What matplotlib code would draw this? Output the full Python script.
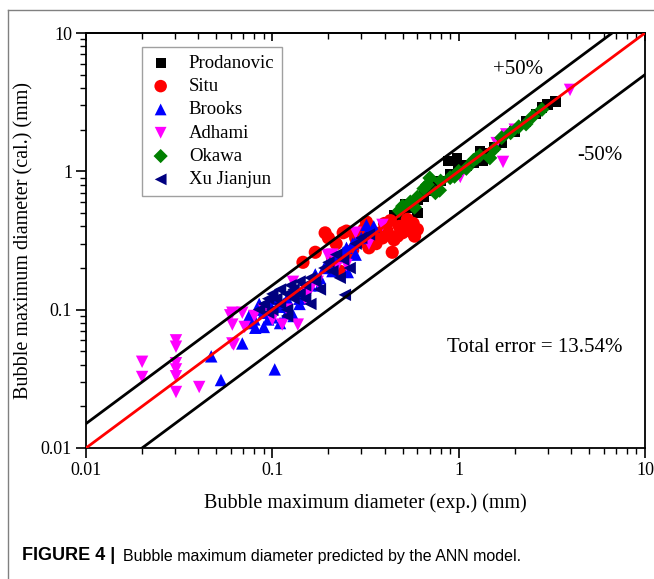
import matplotlib
matplotlib.use("Agg")
import matplotlib.pyplot as plt
from matplotlib.lines import Line2D
import numpy as np

plt.rcParams['font.family'] = ['Liberation Serif', 'DejaVu Serif']

# ---------------- data ----------------
prod_x = [0.45, 0.5, 0.52, 0.55, 0.6, 0.65, 0.7, 0.75, 0.8, 0.88, 0.98, 0.9, 1.0, 1.1, 1.2,
          1.3, 1.45, 1.55, 1.7, 2.0, 2.3, 2.6, 2.8, 3.0, 3.3, 0.5, 0.6, 1.35]
prod_y = [0.48, 0.5, 0.58, 0.55, 0.62, 0.66, 0.72, 0.8, 0.85, 1.19, 1.24, 0.95, 1.05, 1.1, 1.15,
          1.4, 1.35, 1.5, 1.6, 1.95, 2.3, 2.6, 2.9, 3.05, 3.2, 0.42, 0.5, 1.2]

situ_x = [0.146, 0.17, 0.192, 0.21, 0.22, 0.23, 0.24, 0.26, 0.28, 0.32, 0.33, 0.38, 0.39, 0.41,
          0.44, 0.48, 0.5, 0.57, 0.6, 0.25, 0.3, 0.35, 0.42, 0.45, 0.52, 0.55, 0.36, 0.4, 0.47,
          0.27, 0.2, 0.31, 0.43, 0.53, 0.58]
situ_y = [0.22, 0.26, 0.359, 0.24, 0.30, 0.19, 0.36, 0.26, 0.33, 0.43, 0.28, 0.36, 0.33, 0.38,
          0.26, 0.40, 0.36, 0.42, 0.38, 0.37, 0.31, 0.34, 0.35, 0.32, 0.41, 0.37, 0.30, 0.42, 0.34,
          0.27, 0.33, 0.38, 0.44, 0.45, 0.34]

brooks_x = [0.047, 0.053, 0.103, 0.069, 0.081, 0.075, 0.08, 0.085, 0.09, 0.095, 0.1, 0.1, 0.105,
            0.11, 0.115, 0.12, 0.12, 0.13, 0.14, 0.15, 0.16, 0.17, 0.18, 0.19, 0.2, 0.21, 0.22,
            0.24, 0.25, 0.27, 0.3, 0.32, 0.35, 0.28, 0.18, 0.13, 0.09, 0.085, 0.11, 0.14, 0.254,
            0.32, 0.28, 0.078, 0.095, 0.12]
brooks_y = [0.046, 0.031, 0.037, 0.057, 0.074, 0.09, 0.085, 0.1, 0.095, 0.11, 0.1, 0.088, 0.12,
            0.105, 0.11, 0.12, 0.095, 0.13, 0.12, 0.14, 0.15, 0.18, 0.17, 0.2, 0.22, 0.19, 0.24,
            0.26, 0.28, 0.3, 0.33, 0.35, 0.4, 0.25, 0.15, 0.09, 0.075, 0.11, 0.08, 0.11, 0.187,
            0.41, 0.31, 0.08, 0.085, 0.105]

adh_x = [0.02, 0.02, 0.0304, 0.0304, 0.0304, 0.0304, 0.0304, 0.0304, 0.0405, 0.061, 0.061, 0.061,
         0.069, 0.071, 0.062, 0.0594, 0.113, 0.137, 0.129, 0.175, 0.198, 0.28, 0.39, 0.153, 0.09,
         0.1, 0.12, 0.15, 0.22, 0.25, 0.33, 1.02, 1.73, 3.96, 2.0, 1.8, 1.6, 0.08, 0.16, 0.21]
adh_y = [0.042, 0.0326, 0.060, 0.054, 0.041, 0.037, 0.033, 0.0254, 0.0276, 0.095, 0.078, 0.057,
         0.095, 0.075, 0.056, 0.091, 0.078, 0.078, 0.159, 0.159, 0.249, 0.36, 0.41, 0.134, 0.1,
         0.085, 0.1, 0.12, 0.2, 0.21, 0.3, 0.91, 1.17, 3.88, 2.0, 1.85, 1.6, 0.09, 0.14, 0.25]

okawa_x = [0.48, 0.5, 0.55, 0.6, 0.65, 0.7, 0.79, 0.75, 0.8, 0.9, 1.0, 1.1, 1.2, 1.3, 1.47, 1.55,
           1.7, 1.9, 2.1, 2.3, 2.5, 2.8, 0.58, 0.68, 0.95, 1.25]
okawa_y = [0.52, 0.56, 0.6, 0.65, 0.75, 0.895, 0.73, 0.7, 0.85, 0.9, 1.0, 1.05, 1.2, 1.3, 1.25,
           1.45, 1.75, 1.9, 2.1, 2.2, 2.5, 2.8, 0.55, 0.8, 0.92, 1.25]

xu_x = [0.085, 0.09, 0.095, 0.1, 0.1, 0.105, 0.11, 0.11, 0.12, 0.12, 0.125, 0.13, 0.13, 0.14, 0.14,
        0.15, 0.15, 0.16, 0.17, 0.18, 0.19, 0.2, 0.21, 0.22, 0.24, 0.26, 0.28, 0.3, 0.33, 0.245,
        0.23, 0.16, 0.12, 0.095]
xu_y = [0.1, 0.11, 0.12, 0.1, 0.13, 0.12, 0.11, 0.14, 0.13, 0.1, 0.15, 0.12, 0.14, 0.13, 0.16,
        0.15, 0.12, 0.17, 0.16, 0.14, 0.2, 0.22, 0.19, 0.25, 0.23, 0.2, 0.3, 0.33, 0.35, 0.128,
        0.17, 0.11, 0.09, 0.095]

series = [
    ("Prodanovic", prod_x, prod_y, "s", "#000000", 58),
    ("Situ", situ_x, situ_y, "o", "#ff0000", 90),
    ("Brooks", brooks_x, brooks_y, "^", "#0000ff", 80),
    ("Adhami", adh_x, adh_y, "v", "#ff00ff", 80),
    ("Okawa", okawa_x, okawa_y, "D", "#008000", 58),
    ("Xu Jianjun", xu_x, xu_y, "<", "#000080", 80),
]

line_x = [0.01, 10]
ratio_center = 1.0
ratio_upper = 1.5
ratio_lower = 0.5

# ---------------- figure ----------------
W, H = 654, 579
fig = plt.figure(figsize=(W / 100, H / 100), dpi=100)

# page border lines (gray)
fig.add_artist(Line2D([8 / W, 1], [1 - 10 / H, 1 - 10 / H], color="#808080", lw=1.0))
fig.add_artist(Line2D([8 / W, 8 / W], [0, 1 - 10 / H], color="#808080", lw=1.0))

ax = fig.add_axes([86 / W, (H - 448) / H, 559 / W, 415 / H])
ax.set_xscale("log")
ax.set_yscale("log")
ax.set_xlim(0.01, 10)
ax.set_ylim(0.01, 10)

for name, xs, ys, m, c, s in series:
    ax.scatter(xs, ys, marker=m, s=s, color=c, edgecolors="none", label=name, zorder=2)

xx = np.array(line_x)
ax.plot(xx, xx * ratio_center, color="#ff0000", lw=2.0, zorder=3)
ax.plot(xx, xx * ratio_upper, color="#000000", lw=2.0, zorder=3)
ax.plot(xx, xx * ratio_lower, color="#000000", lw=2.0, zorder=3)

ax.text(0.773, 0.911, "+50%", transform=ax.transAxes, ha="center", va="center", fontsize=15)
ax.text(0.92, 0.704, "-50%", transform=ax.transAxes, ha="center", va="center", fontsize=15)
ax.text(0.803, 0.241, "Total error = 13.54%", transform=ax.transAxes, ha="center",
        va="center", fontsize=15)

ax.set_xticks([0.01, 0.1, 1, 10])
ax.set_xticklabels(["0.01", "0.1", "1", "10"])
ax.set_yticks([0.01, 0.1, 1, 10])
ax.set_yticklabels(["0.01", "0.1", "1", "10"])
ax.tick_params(axis="both", which="major", direction="out", length=7, width=1.2,
               labelsize=13, pad=3)
ax.tick_params(axis="both", which="minor", direction="out", length=4, width=1.0)
for sp in ax.spines.values():
    sp.set_linewidth(1.3)

# top axis ticks point inward
sec = ax.secondary_xaxis("top")
sec.set_xticks([0.01, 0.1, 1, 10])
sec.tick_params(axis="x", which="major", direction="in", length=6, width=1.2, labeltop=False)
sec.tick_params(axis="x", which="minor", direction="in", length=4, width=1.0)
sec.set_xticklabels([])
sec.spines["top"].set_linewidth(1.3)
ax.tick_params(axis="x", which="both", top=False)

ax.set_xlabel("Bubble maximum diameter (exp.) (mm)", fontsize=14.5, labelpad=10)
ax.set_ylabel("Bubble maximum diameter (cal.) (mm)", fontsize=14.5, labelpad=5)

leg = ax.legend(loc="upper left", bbox_to_anchor=(0.1, 0.966), borderaxespad=0,
                fontsize=13.5, frameon=True, fancybox=False, edgecolor="#888888",
                handletextpad=0.9, labelspacing=0.33, borderpad=0.4, markerscale=0.95,
                handlelength=1.2)
leg.get_frame().set_linewidth(1.0)

# caption
fig.text(22 / W, 1 - 556 / H, "FIGURE 4 |", fontsize=13, fontweight="bold",
         family=["Liberation Sans"], va="center", ha="left")
fig.text(123 / W, 1 - 556 / H, "Bubble maximum diameter predicted by the ANN model.",
         fontsize=11.5, family=["Liberation Sans"], va="center", ha="left")

fig.savefig("out.png", dpi=100)
